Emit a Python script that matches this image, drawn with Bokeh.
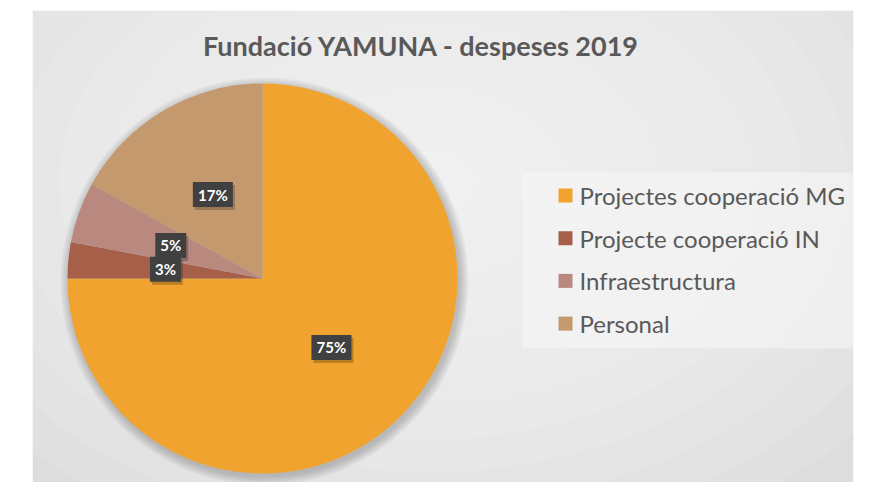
import math
from bokeh.plotting import figure
from bokeh.models import Range1d
from bokeh.core.properties import value
from bokeh.embed import file_html
from bokeh.resources import INLINE

title = "Fundació YAMUNA - despeses 2019"
categories = ["Projectes cooperació MG", "Projecte cooperació IN", "Infraestructura", "Personal"]
shares = [75, 3, 5, 17]
labels = ["75%", "3%", "5%", "17%"]

palette = ["#F0A32E", "#A6604A", "#B98980", "#C4996D"]

W, H = 872, 482
p = figure(width=W, height=H, output_backend="svg", toolbar_location=None,
           x_range=Range1d(0, W), y_range=Range1d(0, H), min_border=0)
p.axis.visible = False
p.grid.visible = False
p.outline_line_color = None
p.background_fill_color = "white"
p.border_fill_color = "white"

# panel background with soft radial gradient
px0, px1, py0, py1 = 32, 853, 0, 472
p.quad(left=[px0], right=[px1], bottom=[py0], top=[py1], fill_color="#d5d5d5", line_color=None)
gx, gy = 430, 300
steps = 14
for k in range(steps):
    f = 1 - k / steps
    p.ellipse(x=[gx], y=[gy], width=[1300 * f], height=[900 * f],
              fill_color="#f5f5f5", fill_alpha=0.13, line_color=None)
# white margins outside panel
p.quad(left=[0, px1, 0], right=[px0, W, W], bottom=[0, 0, py1], top=[H, H, H],
       fill_color="white", line_color=None)

# title
p.text(x=[421], y=[437], text=[title], text_font=value("Lato"), text_font_style="bold",
       text_font_size="27px", text_color="#595959", text_align="center", text_baseline="middle")

# pie
cx, cy, R = 262, 204, 195
for k in range(6):
    p.circle(x=[cx + 2], y=[cy - 3], radius=R + 1 + k * 1.6, fill_color="black",
             fill_alpha=0.035, line_color=None)
total = sum(shares)
cum = 0
starts, ends, mids = [], [], []
for v in shares:
    a0 = math.pi / 2 - 2 * math.pi * cum / total
    cum += v
    a1 = math.pi / 2 - 2 * math.pi * cum / total
    starts.append(a0)
    ends.append(a1)
    mids.append((a0 + a1) / 2)
p.wedge(x=[cx] * len(shares), y=[cy] * len(shares), radius=R, start_angle=starts,
        end_angle=ends, direction="clock", fill_color=palette, line_color=None)

# data labels
lx = [cx + 0.5 * R * math.cos(m) for m in mids]
ly = [cy + 0.5 * R * math.sin(m) for m in mids]
bw = [40 if len(t) > 2 else 31 for t in labels]
p.rect(x=[x + 2 for x in lx], y=[y - 3 for y in ly], width=bw, height=25,
       width_units="screen", height_units="screen", fill_color="black", fill_alpha=0.22, line_color=None)
p.rect(x=lx, y=ly, width=bw, height=25, width_units="screen", height_units="screen",
       fill_color="#404040", line_color=None)
p.text(x=lx, y=ly, text=labels, text_font=value("Lato"), text_font_style="bold",
       text_font_size="15px", text_color="white", text_align="center", text_baseline="middle")

# legend
p.quad(left=[522], right=[853], bottom=[134], top=[310], fill_color="#f7f7f7",
       fill_alpha=0.55, line_color=None)
rows_y = [287 - 42.7 * i for i in range(len(categories))]
p.rect(x=[565] * len(categories), y=rows_y, width=14, height=14, width_units="screen",
       height_units="screen", fill_color=palette, line_color=None)
p.text(x=[579] * len(categories), y=rows_y, text=categories, text_font=value("Lato"),
       text_font_size="24px", text_color="#595959", text_align="left", text_baseline="middle")

open("out.html", "w").write(file_html(p, INLINE))
